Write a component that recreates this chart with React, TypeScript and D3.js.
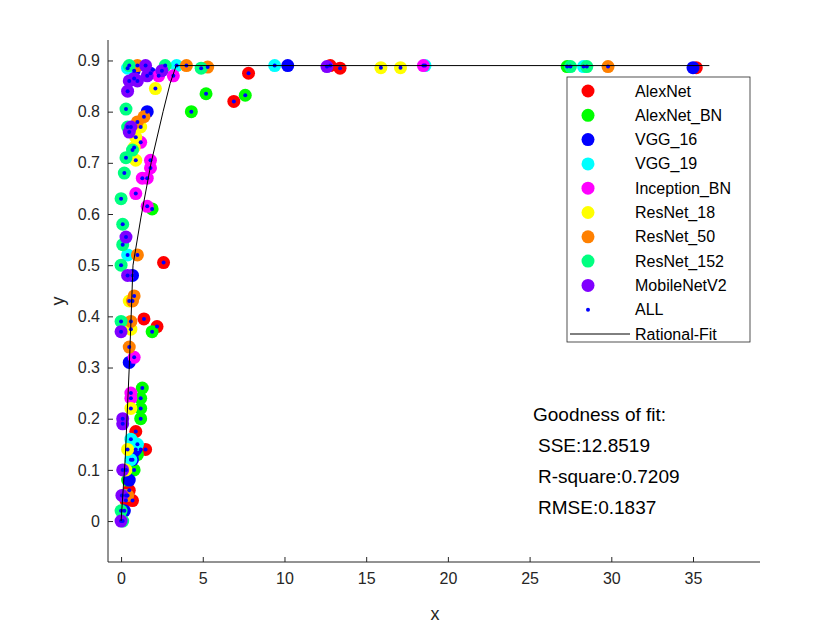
import { useEffect, useRef } from 'react';
import * as d3 from 'd3';

type P = [number, number];

const seriesNames = ['AlexNet', 'AlexNet_BN', 'VGG_16', 'VGG_19', 'Inception_BN', 'ResNet_18', 'ResNet_50', 'ResNet_152', 'MobileNetV2'];
const seriesColors = ['#ff0000', '#00ff00', '#0000ff', '#00ffff', '#ff00ff', '#ffff00', '#ff8000', '#00ff80', '#8000ff'];

const alexnet: P[] = [[0.3, 0.04], [0.5, 0.06], [0.7, 0.04], [1.2, 0.14], [1.5, 0.14], [0.9, 0.175], [1.4, 0.395], [2.2, 0.38], [2.6, 0.505], [6.9, 0.82], [7.8, 0.875], [13.4, 0.885], [35.2, 0.886], [12.8, 0.89]];
const alexnetBn: P[] = [[0.4, 0.08], [0.8, 0.1], [1.2, 0.2], [1.2, 0.22], [1.2, 0.24], [1.3, 0.26], [1.0, 0.13], [1.9, 0.37], [1.9, 0.61], [4.3, 0.8], [5.2, 0.835], [7.6, 0.832], [27.3, 0.888]];
const vgg16: P[] = [[0.2, 0.02], [0.5, 0.08], [0.7, 0.12], [0.9, 0.14], [0.5, 0.31], [0.7, 0.48], [1.6, 0.8], [1.8, 0.875], [10.2, 0.89], [35, 0.886], [0.8, 0.88]];
const vgg19: P[] = [[0.3, 0.05], [0.6, 0.16], [0.6, 0.12], [0.4, 0.52], [0.4, 0.885], [9.4, 0.89], [18.6, 0.89], [28.3, 0.888], [3.4, 0.89], [1.0, 0.15]];
const inception: P[] = [[0.8, 0.32], [0.6, 0.25], [0.6, 0.24], [1.6, 0.615], [1.8, 0.705], [1.8, 0.69], [1.3, 0.67], [0.9, 0.64], [1.2, 0.74], [2.3, 0.87], [3.2, 0.87], [18.5, 0.89], [1.6, 0.67]];
const resnet18: P[] = [[0.3, 0.1], [0.6, 0.22], [0.5, 0.43], [0.6, 0.375], [0.9, 0.75], [0.8, 0.73], [0.9, 0.705], [1.2, 0.77], [2.1, 0.845], [15.9, 0.886], [17.1, 0.886], [0.4, 0.14]];
const resnet50: P[] = [[0.4, 0.05], [0.7, 0.43], [0.8, 0.44], [0.6, 0.39], [0.5, 0.34], [1.0, 0.52], [1.4, 0.79], [1.0, 0.78], [4.0, 0.89], [5.3, 0.887], [29.8, 0.888], [1.0, 0.89]];
const resnet152: P[] = [[0.1, 0.0], [0.0, 0.39], [0.0, 0.5], [0.1, 0.54], [0.1, 0.58], [0.0, 0.63], [0.2, 0.68], [0.3, 0.71], [0.4, 0.77], [0.3, 0.805], [0.7, 0.725], [0.5, 0.89], [2.7, 0.89], [4.9, 0.885], [27.5, 0.888], [28.5, 0.888], [0.0, 0.02]];
const mobilenet: P[] = [[0.0, 0.0], [0.05, 0.05], [0.1, 0.1], [0.1, 0.2], [0.1, 0.19], [0.0, 0.37], [0.4, 0.48], [0.3, 0.555], [0.5, 0.76], [0.6, 0.77], [0.4, 0.84], [0.5, 0.86], [0.8, 0.865], [1.0, 0.86], [1.6, 0.87], [2.5, 0.88], [12.6, 0.888], [1.5, 0.89]];
const seriesData = [alexnet, alexnetBn, vgg16, vgg19, inception, resnet18, resnet50, resnet152, mobilenet];

// rational fit curve
const fitCurve: P[] = [[0, 0], [0.25, 0.12], [0.5, 0.3], [0.73, 0.5], [1.22, 0.594], [1.84, 0.7], [2.57, 0.8], [3.0, 0.855], [3.37, 0.89], [36, 0.89]];

const xTicks = [0, 5, 10, 15, 20, 25, 30, 35];
const yTicks = [0, 0.1, 0.2, 0.3, 0.4, 0.5, 0.6, 0.7, 0.8, 0.9];
const gof = ['SSE:12.8519', 'R-square:0.7209', 'RMSE:0.1837'];

export default function App() {
  const ref = useRef<SVGSVGElement>(null);

  useEffect(() => {
    const svg = d3.select(ref.current);
    svg.selectAll('*').remove();
    const font = 'Liberation Sans, Arial, sans-serif';
    const ink = '#262626';
    const x = d3.scaleLinear().domain([-0.8, 39.1]).range([108, 760]);
    const y = d3.scaleLinear().domain([-0.08, 0.94]).range([562, 40]);

    const g = svg.append('g');
    // points
    seriesData.forEach((pts, i) => {
      g.selectAll(null).data(pts).enter().append('circle')
        .attr('cx', d => x(d[0])).attr('cy', d => y(d[1])).attr('r', 6.5)
        .attr('fill', seriesColors[i]);
    });
    g.selectAll(null).data(seriesData.flat()).enter().append('circle')
      .attr('cx', d => x(d[0])).attr('cy', d => y(d[1])).attr('r', 2)
      .attr('fill', '#0000ff');

    const line = d3.line<P>().x(d => x(d[0])).y(d => y(d[1]));
    g.append('path').attr('d', line(fitCurve)).attr('fill', 'none').attr('stroke', '#000').attr('stroke-width', 1);

    // axes
    const xa = svg.append('g').attr('transform', `translate(0,${y.range()[0]})`)
      .call(d3.axisBottom(x).tickValues(xTicks).tickSize(-5).tickPadding(8).tickFormat(d3.format('d')));
    const ya = svg.append('g').attr('transform', `translate(${x.range()[0]},0)`)
      .call(d3.axisLeft(y).tickValues(yTicks).tickSize(-5).tickPadding(8).tickFormat(d => (d === 0 ? '0' : d3.format('.1f')(d as number))));
    xa.selectAll('text').attr('dy', '0.9em');
    [xa, ya].forEach(a => {
      a.select('.domain').attr('stroke', ink).attr('d', a === xa ? `M108,0H760` : `M0,40V562`);
      a.selectAll('line').attr('stroke', ink);
      a.selectAll('text').attr('fill', ink).attr('font-size', 16).attr('font-family', font);
    });
    svg.append('text').attr('x', 435).attr('y', 620).attr('text-anchor', 'middle')
      .attr('font-size', 18).attr('font-family', font).attr('fill', ink).text('x');
    svg.append('text').attr('transform', 'translate(64,301) rotate(-90)').attr('text-anchor', 'middle')
      .attr('font-size', 18).attr('font-family', font).attr('fill', ink).text('y');

    // legend
    const lg = svg.append('g');
    lg.append('rect').attr('x', 567).attr('y', 77).attr('width', 183).attr('height', 265)
      .attr('fill', '#fff').attr('stroke', ink).attr('stroke-width', 0.8);
    const names = [...seriesNames, 'ALL', 'Rational-Fit'];
    names.forEach((n, i) => {
      const cy = 91 + i * 24.3;
      if (i < 9) lg.append('circle').attr('cx', 588).attr('cy', cy).attr('r', 6.5).attr('fill', seriesColors[i]);
      else if (i === 9) lg.append('circle').attr('cx', 588).attr('cy', cy).attr('r', 2).attr('fill', '#0000ff');
      else lg.append('line').attr('x1', 570).attr('x2', 630).attr('y1', cy).attr('y2', cy).attr('stroke', '#000');
      lg.append('text').attr('x', 635).attr('y', cy + 5.5).attr('font-size', 16).attr('font-family', font)
        .attr('fill', '#000').text(n);
    });

    svg.append('text').attr('x', 533).attr('y', 421).attr('font-size', 19).attr('font-family', font).text('Goodness of fit:');
    gof.forEach((t, i) => {
      svg.append('text').attr('x', 538).attr('y', 452 + i * 31).attr('font-size', 19).attr('font-family', font).text(t);
    });
  }, []);

  return <svg ref={ref} width={840} height={630} style={{ position: 'absolute', left: 0, top: 0, background: '#fff' }} />;
}
